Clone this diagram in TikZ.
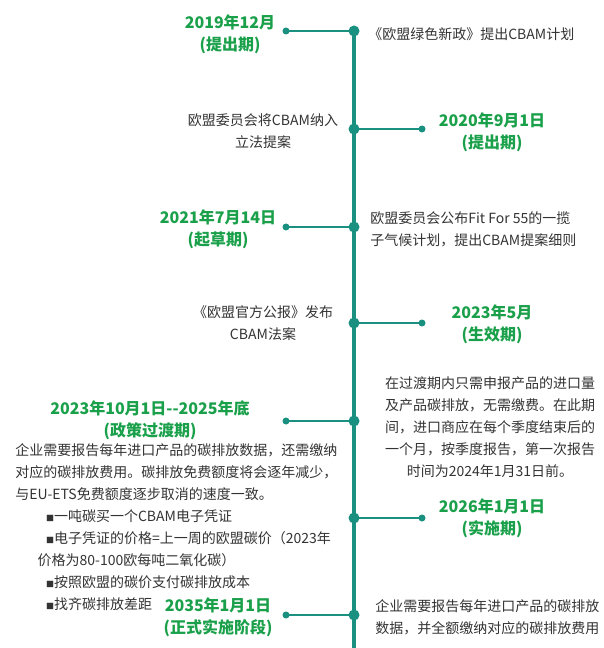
\documentclass[tikz,border=0pt]{standalone}
\usepackage{fontspec}
\setmainfont{Noto Sans CJK SC}
\definecolor{axisgreen}{HTML}{1A9080}
\definecolor{dategreen}{HTML}{1AA04A}
\definecolor{bodygray}{HTML}{333333}
\newcommand{\bsq}{{\fontsize{6}{6}\selectfont ■}}
\tikzset{
  date/.style={text=dategreen, font=\bfseries\fontsize{12}{16.5}\selectfont, align=center, inner sep=0pt},
  body/.style={text=bodygray, font=\fontsize{10.5}{16.5}\selectfont, inner sep=0pt},
  branch/.style={axisgreen, line width=2pt},
}
\begin{document}
\begin{tikzpicture}[x=0.75pt, y=-0.75pt]
  \useasboundingbox (0,0) rectangle (603,648);
  % axis
  \coordinate (top) at (354,31);
  \coordinate (bot) at (354,648);
  \draw[branch, line width=2.5pt] (top) -- (bot);

  % branches
  \foreach \y/\side in {31/-1, 129/1, 227/-1, 323/1, 421/-1, 518/1, 615/-1} {
    \coordinate (m\y) at (354,\y);
    \coordinate (e\y) at ({354+\side*68},\y);
    \draw[branch] (m\y) -- (e\y);
    \fill[axisgreen] (m\y) circle (5.5);
    \fill[axisgreen] (e\y) circle (3.5);
  }

  % dates
  \node[date] (d1) at (230,34) {2019年12月\\(提出期)};
  \node[date] (d2) at (492,132) {2020年9月1日\\(提出期)};
  \node[date] (d3) at (218,229) {2021年7月14日\\(起草期)};
  \node[date] (d4) at (492,324) {2023年5月\\(生效期)};
  \node[date] (d5) at (150,420) {2023年10月1日-{}-2025年底\\(政策过渡期)};
  \node[date] (d6) at (492,518) {2026年1月1日\\(实施期)};
  \node[date] (d7) at (218,617) {2035年1月1日\\(正式实施阶段)};

  % descriptions
  \node[body, anchor=west] (t1) at (368,34) {《欧盟绿色新政》提出CBAM计划};
  \node[body, align=center] (t2) at (263,131) {欧盟委员会将CBAM纳入\\立法提案};
  \node[body, align=left, anchor=west] (t3) at (370,229) {欧盟委员会公布Fit For 55的一揽\\子气候计划，提出CBAM提案细则};
  \node[body, align=center] (t4) at (263,323) {《欧盟官方公报》发布\\CBAM法案};
  \node[body, align=center] (t5) at (490,427) {在过渡期内只需申报产品的进口量\\及产品碳排放，无需缴费。在此期\\间，进口商应在每个季度结束后的\\一个月，按季度报告，第一次报告\\时间为2024年1月31日前。};
  \node[body, align=left, anchor=north west] (t6) at (15,443) {企业需要报告每年进口产品的碳排放数据，还需缴纳\\对应的碳排放费用。碳排放免费额度将会逐年减少，\\与EU-ETS免费额度逐步取消的速度一致。\\
  \hspace*{2.2em}\bsq 一吨碳买一个CBAM电子凭证\\
  \hspace*{2.2em}\bsq 电子凭证的价格=上一周的欧盟碳价（2023年\\
  \hspace*{1.6em}价格为80-100欧每吨二氧化碳）\\
  \hspace*{2.2em}\bsq 按照欧盟的碳价支付碳排放成本\\
  \hspace*{2.2em}\bsq 找齐碳排放差距};
  \node[body, align=left, anchor=west] (t7) at (375,617) {企业需要报告每年进口产品的碳排放\\数据，并全额缴纳对应的碳排放费用};
\end{tikzpicture}
\end{document}
